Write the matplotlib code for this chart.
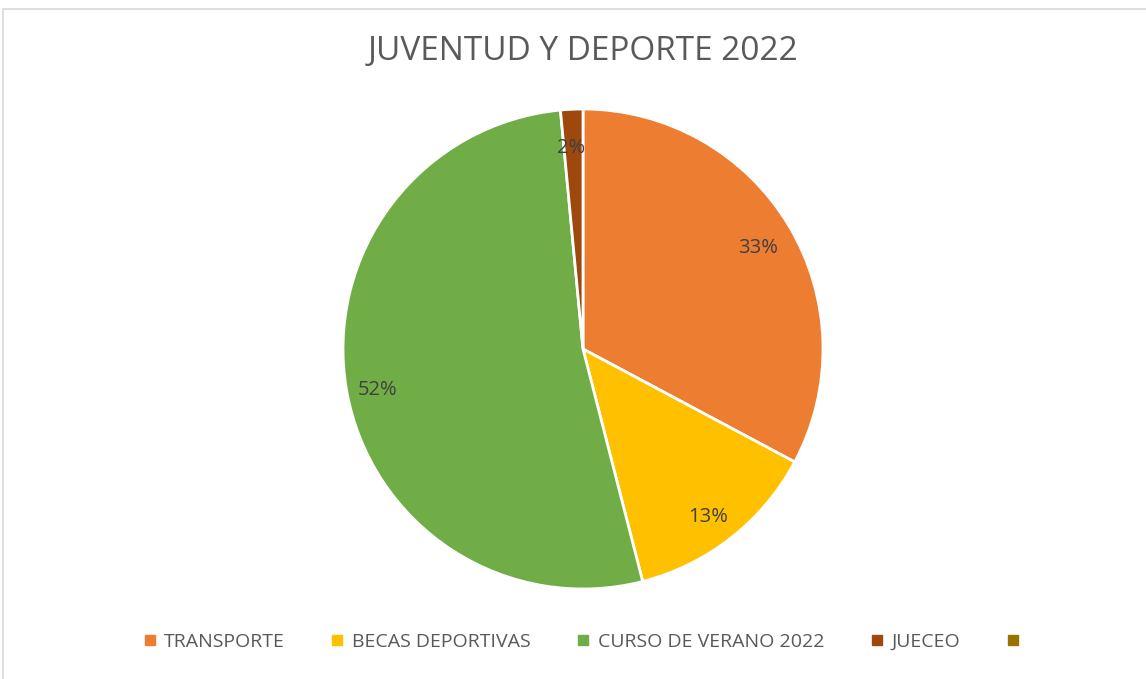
import matplotlib.pyplot as plt
from matplotlib.patches import Rectangle
from matplotlib.lines import Line2D

plt.rcParams['font.family'] = ['Open Sans', 'DejaVu Sans']

title = "JUVENTUD Y DEPORTE 2022"
categories = ["TRANSPORTE", "BECAS DEPORTIVAS", "CURSO DE VERANO 2022", "JUECEO", ""]
values = [32.8, 13.2, 52.5, 1.5, 0.0]
colors = ["#ED7D31", "#FFC000", "#70AD47", "#9E480E", "#997300"]

W, H = 1146, 679
fig = plt.figure(figsize=(W / 100, H / 100), dpi=100)

# light chart border
fig.patches.append(Rectangle((3 / W, -0.01), 1.02, 1 - 9 / H + 0.01,
                             transform=fig.transFigure, fill=False,
                             edgecolor="#D9D9D9", linewidth=1.2))

cx, cy, r = 583, 349, 240
ax = fig.add_axes([(cx - r) / W, 1 - (cy + r) / H, 2 * r / W, 2 * r / H])

nz = [(v, c) for v, c in zip(values, colors) if v > 0]
wedges, texts, autotexts = ax.pie(
    [v for v, _ in nz], colors=[c for _, c in nz],
    startangle=90, counterclock=False,
    autopct="%1.0f%%", pctdistance=0.86,
    wedgeprops=dict(edgecolor="white", linewidth=2),
    textprops=dict(color="#404040", fontsize=14.5))
for t in autotexts:
    x, y = t.get_position()
    t.set_position((x - 0.01, y - 0.022))
ax.set_xlim(-1, 1)
ax.set_ylim(-1, 1)
ax.set_aspect("equal")

fig.text(cx / W, 1 - 52 / H, title, ha="center", va="center",
         fontsize=24, color="#595959")

handles = [Line2D([], [], marker="s", linestyle="none", markersize=7,
                  markerfacecolor=c, markeredgecolor=c) for c in colors]
fig.legend(handles, categories, loc="center", ncol=5,
           bbox_to_anchor=(0.51, 1 - 642 / H), frameon=False,
           fontsize=14, labelcolor="#595959", handlelength=0.8,
           handletextpad=0.35, columnspacing=2.3)

fig.savefig("out.png", dpi=100)
